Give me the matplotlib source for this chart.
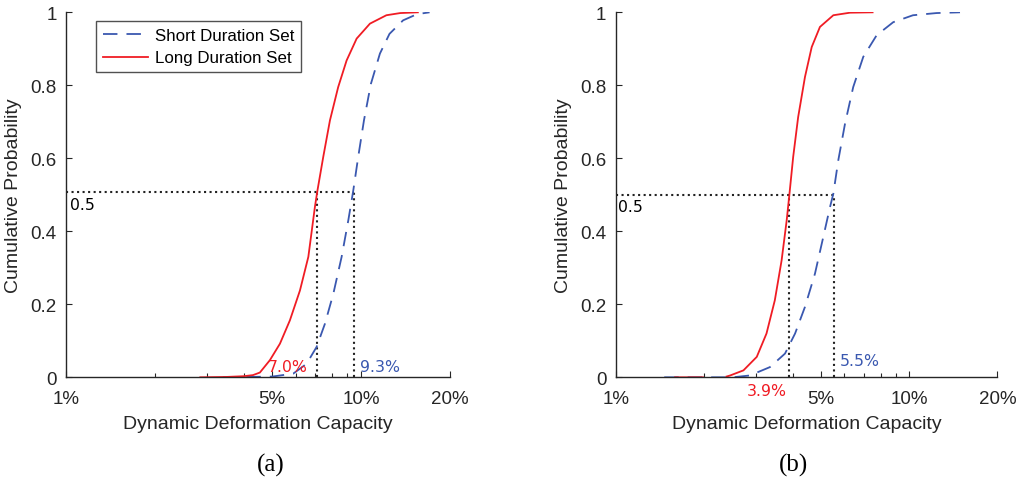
import numpy as np
import matplotlib
matplotlib.use('Agg')
import matplotlib.pyplot as plt
from matplotlib.ticker import FixedLocator, NullFormatter

# values (x in % of deformation capacity)
a_short_x = [3.4, 5.0, 5.89, 6.54, 7.07, 7.55, 8.06, 8.60, 9.06, 9.42, 9.79, 10.24, 10.81, 11.6, 12.5, 13.9, 15.5, 17.1]
a_short_p = [0, 0.002, 0.01, 0.037, 0.083, 0.147, 0.229, 0.33, 0.43, 0.512, 0.604, 0.704, 0.804, 0.887, 0.941, 0.978, 0.995, 1.0]
a_long_x = [2.85, 3.5, 4.0, 4.3, 4.54, 4.91, 5.31, 5.74, 6.21, 6.63, 6.98, 7.12, 7.45, 7.85, 8.37, 8.94, 9.67, 10.73, 12.2, 13.6, 15.6]
a_long_p = [0, 0.001, 0.003, 0.006, 0.013, 0.047, 0.092, 0.156, 0.238, 0.33, 0.467, 0.512, 0.604, 0.704, 0.795, 0.868, 0.928, 0.969, 0.992, 0.998, 1.0]

b_short_x = [1.46, 2.5, 2.86, 3.35, 3.77, 4.08, 4.41, 4.77, 5.09, 5.37, 5.51, 5.73, 6.04, 6.44, 6.97, 7.74, 8.82, 10.3, 12.4, 14.9]
b_short_p = [0, 0, 0.005, 0.028, 0.065, 0.12, 0.193, 0.284, 0.384, 0.467, 0.503, 0.595, 0.695, 0.795, 0.878, 0.937, 0.973, 0.992, 0.998, 1.0]
b_long_x = [1.59, 1.98, np.nan, 2.38, 2.45, 2.72, 3.02, 3.26, 3.48, 3.67, 3.82, 3.90, 4.02, 4.18, 4.41, 4.65, 4.96, 5.51, 6.28, 7.5]
b_long_p = [0, 0, np.nan, 0.002, 0.005, 0.019, 0.056, 0.12, 0.211, 0.32, 0.43, 0.499, 0.604, 0.713, 0.823, 0.905, 0.96, 0.992, 0.999, 1.0]

# medians marked with dotted guides
a_medians = [7.07, 9.5]
a_level = 0.508
b_medians = [3.9, 5.52]
b_level = 0.5

x_major = [1, 5, 10, 20]
x_major_labels = ["1%", "5%", "10%", "20%"]
x_minor = [2, 3, 4, 6, 7, 8, 9]
y_ticks = [0, 0.2, 0.4, 0.6, 0.8, 1]
y_labels = ["0", "0.2", "0.4", "0.6", "0.8", "1"]

red = "#f01c24"
blue = "#3a58b0"
ink = "#262626"
sans = "Liberation Sans"

fig = plt.figure(figsize=(10.24, 4.81), dpi=100)
ax_a = fig.add_axes([0.0647, 0.2135, 0.3744, 0.7588])
ax_b = fig.add_axes([0.6016, 0.2135, 0.3725, 0.7588])


def style_axes(ax):
    ax.set_xscale("log")
    ax.set_xlim(1, 20)
    ax.set_ylim(0, 1)
    for s in ("top", "right"):
        ax.spines[s].set_visible(False)
    for s in ("left", "bottom"):
        ax.spines[s].set_color(ink)
        ax.spines[s].set_linewidth(1.0)
    ax.xaxis.set_major_locator(FixedLocator(x_major))
    ax.xaxis.set_minor_locator(FixedLocator(x_minor))
    ax.xaxis.set_minor_formatter(NullFormatter())
    ax.set_xticklabels(x_major_labels, fontsize=13.5, family=sans, color=ink)
    ax.set_yticks(y_ticks)
    ax.set_yticklabels(y_labels, fontsize=13.5, family=sans, color=ink)
    ax.tick_params(which="major", direction="in", length=4, width=0.8, color=ink)
    ax.tick_params(which="minor", direction="in", length=3, width=0.8, color=ink)
    ax.tick_params(axis="x", which="major", pad=9)
    ax.tick_params(axis="y", which="major", pad=7)
    ax.set_xlabel("Dynamic Deformation Capacity", fontsize=14, family=sans, color=ink, labelpad=6)
    ax.set_ylabel("Cumulative Probability", fontsize=14, family=sans, color=ink, labelpad=6)


def guides(ax, medians, level):
    kw = dict(color="#222222", linestyle=":", linewidth=1.5)
    ax.plot([1, max(medians)], [level, level], **kw)
    for m in medians:
        ax.plot([m, m], [0, level], **kw)


for ax in (ax_a, ax_b):
    style_axes(ax)

guides(ax_a, a_medians, a_level)
ax_a.plot(a_short_x, a_short_p, color=blue, linestyle=(0, (8, 5)), linewidth=1.3, label="Short Duration Set")
ax_a.plot(a_long_x, a_long_p, color=red, linewidth=1.3, label="Long Duration Set")
leg = ax_a.legend(loc="upper left", bbox_to_anchor=(0.077, 0.976), borderaxespad=0, frameon=True,
                  fancybox=False, edgecolor=ink, prop={"family": sans, "size": 12.2}, handlelength=2.7,
                  handletextpad=0.4, borderpad=0.4, labelspacing=0.45)
leg.get_frame().set_linewidth(1.0)

guides(ax_b, b_medians, b_level)
ax_b.plot(b_short_x, b_short_p, color=blue, linestyle=(0, (8, 5)), linewidth=1.3)
ax_b.plot(b_long_x, b_long_p, color=red, linewidth=1.3)

ann = dict(family="DejaVu Sans", fontsize=11.3, clip_on=False)
ax_a.text(1.03, 0.473, "0.5", ha="left", va="center", color="black", **ann)
ax_a.text(6.6, 0.03, "7.0%", ha="right", va="center", color=red, **ann)
ax_a.text(9.9, 0.03, "9.3%", ha="left", va="center", color=blue, **ann)
ax_b.text(1.016, 0.468, "0.5", ha="left", va="center", color="black", **ann)
ax_b.text(3.83, -0.035, "3.9%", ha="right", va="center", color=red, **ann)
ax_b.text(5.8, 0.047, "5.5%", ha="left", va="center", color=blue, **ann)

fig.text(271 / 1024, 1 - 465 / 481, "(a)", ha="center", va="center", family="Liberation Serif", fontsize=18)
fig.text(793 / 1024, 1 - 465 / 481, "(b)", ha="center", va="center", family="Liberation Serif", fontsize=18)

fig.savefig("out.png", dpi=100, facecolor="white")
